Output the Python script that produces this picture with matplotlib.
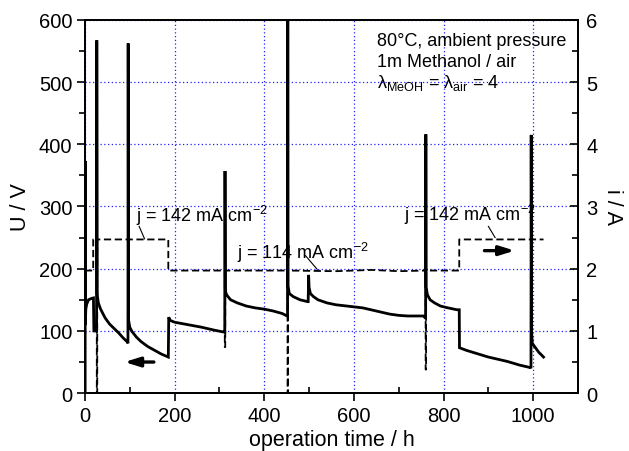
import matplotlib
matplotlib.use("Agg")
import matplotlib.pyplot as plt

plt.rcParams['font.family'] = ['Liberation Sans', 'DejaVu Sans']
plt.rcParams['mathtext.fontset'] = 'custom'
plt.rcParams['mathtext.rm'] = 'Liberation Sans'
plt.rcParams['mathtext.it'] = 'Liberation Sans:italic'
plt.rcParams['mathtext.bf'] = 'Liberation Sans:bold'

# Voltage U / V vs operation time / h
time_u = [0, 0.5, 0.6, 0.9, 2, 4, 8, 14, 19, 20, 26, 26.5, 27.5,
          28, 30, 35, 45, 55, 65, 75, 85, 95, 96, 96.5, 97.2,
          98, 100, 105, 115, 125, 140, 155, 170, 186, 187,
          190, 200, 230, 260, 290, 311, 312, 312.5, 313.2,
          316, 325, 340, 360, 380, 400, 420, 440, 451, 452, 452.5, 453.2,
          456, 465, 480, 497, 498, 499, 500,
          503, 510, 520, 540, 560, 596, 620, 650, 680, 700, 720, 740, 755, 759, 760, 760.5, 761.2,
          764, 770, 780, 793, 810, 830, 835, 835.5,
          850, 868, 900, 942, 970, 994, 995, 995.5, 996.2,
          998, 1003, 1012, 1023]
volt_u = [0, 0, 373, 110, 135, 143, 150, 152, 153, 100, 100, 567, 160,
          155, 145, 135, 121, 111, 104, 97, 89, 82, 80, 562, 118,
          115, 106, 99, 90, 83, 75, 69, 63, 58, 122,
          117, 114, 110, 106, 101, 98, 98, 357, 165,
          158, 150, 145, 140, 137, 135, 132, 128, 124, 124, 640, 172,
          160, 155, 150, 147, 147, 190, 170,
          160, 155, 150, 145, 142, 139, 137, 132, 127, 125, 124, 124, 124, 121, 121, 416, 170,
          158, 150, 145, 140, 137, 134, 134, 73,
          69, 65, 58, 51, 45, 41, 40, 415, 100,
          80, 75, 66, 58]

# Current i / A vs operation time / h
time_i = [0, 18.5, 18.5, 26.5, 26.5, 27.5, 27.5, 186, 186, 312, 312, 313, 313,
          452, 452, 453, 453, 560, 640, 700, 760, 760, 761, 761, 835, 835, 1023]
curr_i = [1.97, 1.97, 2.47, 2.47, 0.0, 0.0, 2.47, 2.47, 1.97, 1.97, 0.74, 0.74, 1.97,
          1.97, 0.0, 0.0, 1.97, 1.96, 1.98, 1.96, 1.97, 0.38, 0.38, 1.97, 1.97, 2.47, 2.47]

x_ticks = [0, 200, 400, 600, 800, 1000]
u_ticks = [0, 100, 200, 300, 400, 500, 600]
i_ticks = [0, 1, 2, 3, 4, 5, 6]

fig = plt.figure(figsize=(6.29, 4.52), dpi=100)
ax = fig.add_axes([0.135, 0.128, 0.784, 0.826])
ax2 = ax.twinx()

ax.plot(time_u, volt_u, color='black', lw=2.0, zorder=5, solid_joinstyle='miter')
ax2.plot(time_i, curr_i, color='black', lw=1.3, linestyle=(0, (4, 2)), zorder=3)

ax.set_xlim(0, 1100)
ax.set_ylim(0, 600)
ax2.set_ylim(0, 6)
ax.set_xticks(x_ticks)
ax.set_xticks(range(100, 1100, 200), minor=True)
ax.set_yticks(u_ticks)
ax.set_yticks(range(50, 600, 100), minor=True)
ax2.set_yticks(i_ticks)
ax2.set_yticks([0.5, 1.5, 2.5, 3.5, 4.5, 5.5], minor=True)

ax.grid(True, which='major', color='#2020ff', linestyle=(0, (1, 2)), lw=0.9)

ax.tick_params(axis='x', which='major', direction='out', length=6, width=1.2, labelsize=14.5, pad=3)
ax.tick_params(axis='x', which='minor', direction='in', length=4, width=1.2)
ax.tick_params(axis='y', which='major', direction='out', length=6, width=1.2, labelsize=14.5, pad=3)
ax.tick_params(axis='y', which='minor', direction='out', length=4, width=1.2)
ax2.tick_params(axis='y', which='major', direction='in', length=6, width=1.2, labelsize=14.5, pad=6)
ax2.tick_params(axis='y', which='minor', direction='in', length=4, width=1.2)

for a in (ax, ax2):
    for s in a.spines.values():
        s.set_linewidth(1.3)

ax.set_xlabel('operation time / h', fontsize=15.5, labelpad=3)
ax.set_ylabel('U / V', fontsize=15.5, labelpad=6)
ax2.set_ylabel('i / A', fontsize=15.5, rotation=270, labelpad=18)

fs = 13
ax.text(651, 560, '80°C, ambient pressure', fontsize=fs, va='baseline')
ax.text(651, 526, '1m Methanol / air', fontsize=fs, va='baseline')
ax.text(651, 492, 'λ$_{\\mathrm{MeOH}}$ = λ$_{\\mathrm{air}}$ = 4', fontsize=fs, va='baseline')

ax.text(113, 276, 'j = 142 mA cm$^{-2}$', fontsize=fs, va='baseline', zorder=6)
ax.plot([121, 133], [268, 248], color='black', lw=0.8)
ax.text(340, 217, 'j = 114 mA cm$^{-2}$', fontsize=fs, va='baseline', zorder=6)
ax.plot([492, 518], [221, 199], color='black', lw=0.8)
ax.text(711, 278, 'j = 142 mA cm$^{-2}$', fontsize=fs, va='baseline', zorder=6)
ax.plot([900, 915], [268, 250], color='black', lw=0.8)

ax.annotate('', xy=(82, 50), xytext=(160, 50),
            arrowprops=dict(arrowstyle='-|>,head_length=0.9,head_width=0.28', color='black', lw=2.4))
ax2.annotate('', xy=(965, 2.29), xytext=(885, 2.29),
             arrowprops=dict(arrowstyle='-|>,head_length=0.9,head_width=0.28', color='black', lw=2.4))

fig.savefig('out.png', dpi=100)
